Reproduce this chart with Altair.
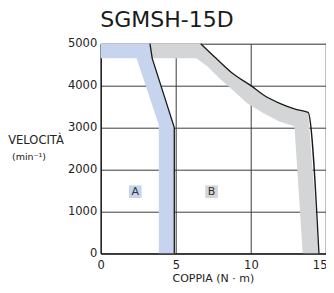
import altair as alt
import pandas as pd

# Region A (blue band) polygon vertices: torque (N·m), speed (min-1)
band_a_torque = [0, 3.28, 3.43, 4.9, 4.9, 3.87, 3.87, 2.39, 0]
band_a_speed = [5000, 5000, 4650, 3000, 0, 0, 3060, 4650, 4650]

# Region B (grey band) polygon vertices
band_b_torque = [3.28, 6.66, 7.68, 8.77, 10.0, 10.84, 11.92, 13.0, 13.81, 14.53,
                 13.45, 12.9, 11.92, 10.84, 9.75, 8.77, 7.9, 7.13, 6.37, 3.43]
band_b_speed = [5000, 5000, 4652, 4294, 4000, 3776, 3578, 3435, 3363, 0,
                0, 3030, 3140, 3340, 3578, 3900, 4175, 4451, 4650, 4650]

# Boundary line A
line_a_torque = [3.28, 3.43, 4.9, 4.9]
line_a_speed = [5000, 4650, 3000, 0]

# Boundary line B
line_b_torque = [6.66, 7.68, 8.77, 10.0, 10.84, 11.92, 13.0, 13.81, 14.53]
line_b_speed = [5000, 4652, 4294, 4000, 3776, 3578, 3435, 3363, 0]

# Region labels
label_text = ["A", "B"]
label_torque = [2.3, 7.38]
label_speed = [1470, 1470]
label_color = ["#c6d4ee", "#d4d5d7"]

x_ticks = [0, 5, 10, 15]
y_ticks = [0, 1000, 2000, 3000, 4000, 5000]

FONT = "DejaVu Sans"
W = 225.3
H = 209.6

band_a = pd.DataFrame({"t": band_a_torque, "s": band_a_speed, "i": range(len(band_a_torque))})
band_b = pd.DataFrame({"t": band_b_torque, "s": band_b_speed, "i": range(len(band_b_torque))})
line_a = pd.DataFrame({"t": line_a_torque, "s": line_a_speed, "i": range(len(line_a_torque))})
line_b = pd.DataFrame({"t": line_b_torque, "s": line_b_speed, "i": range(len(line_b_torque))})
labels = pd.DataFrame({"t": label_torque, "s": label_speed, "txt": label_text, "c": label_color})

xscale = alt.Scale(domain=[0, 15], nice=False, zero=False)
yscale = alt.Scale(domain=[0, 5000], nice=False, zero=False)

xax = alt.Axis(values=x_ticks, title=None, grid=True, gridColor="#3c3c3c", gridWidth=1,
               domainColor="#111", domainWidth=1.2, ticks=False, labelPadding=6, format="d",
               labelFont=FONT, labelFontSize=11.5, labelColor="#222", labelFlush=False,
               labelAlign={"expr": "datum.value == 15 ? 'right' : 'center'"},
               labelOffset={"expr": "datum.value == 15 ? 1 : 0"})
yax = alt.Axis(values=y_ticks, title=None, grid=True, gridColor="#3c3c3c", gridWidth=1,
               domainColor="#111", domainWidth=1.2, ticks=False, labelPadding=4, format="d",
               labelFont=FONT, labelFontSize=11.5, labelColor="#222", labelFlush=False)

base_x = alt.X("t:Q", scale=xscale, axis=xax)
base_y = alt.Y("s:Q", scale=yscale, axis=yax)

poly_a = alt.Chart(band_a).mark_line(fill="#c6d4ee", strokeOpacity=0, interpolate="linear").encode(
    x=base_x, y=base_y, order="i:Q")
poly_b = alt.Chart(band_b).mark_line(fill="#d4d5d7", strokeOpacity=0, interpolate="linear").encode(
    x="t:Q", y="s:Q", order="i:Q")

la = alt.Chart(line_a).mark_line(color="#1a1a1a", strokeWidth=1.3).encode(
    x="t:Q", y="s:Q", order="i:Q")
lb = alt.Chart(line_b).mark_line(color="#1a1a1a", strokeWidth=1.3, interpolate="monotone").encode(
    x="t:Q", y="s:Q", order="i:Q")

boxes = alt.Chart(labels).mark_square(size=160, opacity=1).encode(
    x="t:Q", y="s:Q", color=alt.Color("c:N", scale=None))
texts = alt.Chart(labels).mark_text(font=FONT, fontSize=11, color="#333").encode(
    x="t:Q", y="s:Q", text="txt:N")

title_df = pd.DataFrame({"txt": ["SGMSH-15D"]})
title = alt.Chart(title_df).mark_text(font=FONT, fontSize=22, color="#1a1a1a",
                                      baseline="alphabetic", align="center").encode(
    x=alt.value(66.3), y=alt.value(-16.7), text="txt:N")

ytitle_df = pd.DataFrame({"txt": ["VELOCITÀ"]})
ytitle = alt.Chart(ytitle_df).mark_text(font=FONT, fontSize=11.5, color="#222",
                                        baseline="alphabetic", align="center").encode(
    x=alt.value(-64.7), y=alt.value(100.6), text="txt:N")
yunit_df = pd.DataFrame({"txt": ["(min⁻¹)"]})
yunit = alt.Chart(yunit_df).mark_text(font=FONT, fontSize=9.5, color="#222",
                                      baseline="alphabetic", align="center").encode(
    x=alt.value(-71.7), y=alt.value(116.3), text="txt:N")

xtitle_df = pd.DataFrame({"txt": ["COPPIA (N · m)"]})
xtitle = alt.Chart(xtitle_df).mark_text(font=FONT, fontSize=11, color="#222",
                                        baseline="alphabetic", align="center").encode(
    x=alt.value(W / 2), y=alt.value(238.5), text="txt:N")

chart = alt.layer(poly_a, poly_b, la, lb, boxes, texts, title, ytitle, yunit, xtitle).properties(
    width=W, height=H,
    autosize=alt.AutoSizeParams(type="none"),
    padding={"left": 92.7, "top": 35.7, "right": 0, "bottom": 31},
).configure_view(stroke="#3c3c3c", strokeWidth=1).configure(background="white")

chart.save("out.html", embed_options={"renderer": "svg", "actions": False})
